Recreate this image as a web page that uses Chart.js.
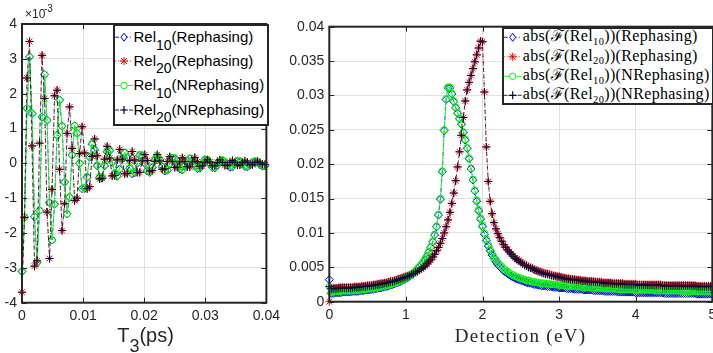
<!DOCTYPE html>
<html>
<head>
<meta charset="utf-8">
<script src="https://cdn.jsdelivr.net/npm/chart.js@4.4.1/dist/chart.umd.min.js"></script>
<style>
  html,body{margin:0;padding:0;background:#fff;}
  body{width:713px;height:353px;overflow:hidden;position:relative;}
  canvas{position:absolute;top:0;}
  .t{position:absolute;white-space:nowrap;color:#262626;}
  .lg{position:absolute;background:#fff;border:2px solid #262626;box-sizing:border-box;}
</style>
</head>
<body>
<canvas id="cL" width="285" height="353" style="left:0"></canvas>
<canvas id="cR" width="445" height="353" style="left:285px"></canvas>
<script>
// ---------------- DATA ----------------
// Left panel: time-domain signals, sampled every T3_STEP ps (x10^-3 units on y)
const T3_STEP = 0.00041;
const timeTicks = [0, 0.01, 0.02, 0.03, 0.04];
const signalTicks = [-4, -3, -2, -1, 0, 1, 2, 3, 4];

const rel10Reph = [-3.10,-1.55,1.58,3.06,1.43,-1.53,-2.85,-1.35,1.33,2.55,
 1.24,-1.13,-2.20,-1.17,0.81,1.82,1.07,-0.54,-1.45,-0.97,
 0.24,1.08,0.86,0.00,-0.73,-0.72,-0.40,0.18,0.55,0.38,
 -0.07,-0.40,-0.42,-0.07,0.33,0.36,0.03,-0.30,-0.37,-0.17,
 0.13,0.30,0.16,-0.14,-0.30,-0.27,0.00,0.23,0.22,0.00,
 -0.22,-0.26,-0.12,0.10,0.20,0.10,-0.10,-0.22,-0.20,-0.02,
 0.15,0.14,-0.02,-0.16,-0.19,-0.08,0.06,0.13,0.06,-0.07,
 -0.15,-0.14,-0.02,0.10,0.09,-0.02,-0.12,-0.13,-0.06,0.04,
 0.08,0.03,-0.06,-0.11,-0.10,-0.02,0.06,0.05,-0.02,-0.09,
 -0.10,-0.05,0.02,0.05,0.02,-0.04,-0.08,-0.07];
const rel20Reph = [-3.70,-1.55,2.45,3.50,0.50,-2.95,-2.80,0.58,3.10,1.86,
 -1.40,-2.73,-0.75,1.94,2.10,-0.17,-1.93,-1.16,0.86,1.62,
 0.43,-1.07,-1.00,0.28,1.05,0.30,-0.73,-0.67,0.20,0.70,
 0.22,-0.45,-0.43,0.12,0.49,0.15,-0.36,-0.35,0.10,0.40,
 0.12,-0.30,-0.29,0.08,0.34,0.10,-0.26,-0.26,0.07,0.25,
 0.08,-0.22,-0.21,0.06,0.25,0.07,-0.17,-0.16,0.05,0.19,
 0.06,-0.12,-0.11,0.04,0.16,0.05,-0.10,-0.10,0.04,0.17,
 0.05,-0.08,-0.07,0.03,0.10,0.04,-0.07,-0.07,0.03,0.10,
 0.03,-0.06,-0.05,0.02,0.08,0.03,-0.05,-0.05,0.02,0.07,
 0.03,-0.04,-0.04,0.02,0.06,0.02,-0.03,-0.03];
const rel10NReph = [-3.10,-1.55,1.58,3.06,1.43,-1.53,-2.85,-1.35,1.33,2.55,
 1.24,-1.13,-2.20,-1.17,0.81,1.82,1.07,-0.54,-1.45,-0.97,
 0.24,1.08,0.86,0.00,-0.73,-0.70,-0.38,0.20,0.57,0.40,
 -0.05,-0.38,-0.40,-0.05,0.35,0.38,0.05,-0.28,-0.35,-0.15,
 0.15,0.32,0.18,-0.12,-0.28,-0.25,0.02,0.25,0.24,0.02,
 -0.20,-0.24,-0.10,0.12,0.22,0.12,-0.08,-0.20,-0.18,0.00,
 0.17,0.16,0.00,-0.14,-0.17,-0.06,0.08,0.15,0.08,-0.05,
 -0.13,-0.12,0.00,0.12,0.11,0.00,-0.10,-0.11,-0.04,0.06,
 0.10,0.05,-0.04,-0.09,-0.08,0.00,0.08,0.07,0.00,-0.07,
 -0.08,-0.03,0.04,0.07,0.04,-0.02,-0.06,-0.05];
const rel20NReph = [-3.70,-1.55,2.45,3.50,0.50,-2.95,-2.80,0.58,3.10,1.86,
 -1.40,-2.73,-0.75,1.94,2.10,-0.17,-1.93,-1.16,0.86,1.62,
 0.43,-1.07,-1.00,0.28,1.05,0.30,-0.73,-0.67,0.20,0.70,
 0.22,-0.45,-0.43,0.12,0.49,0.15,-0.36,-0.35,0.10,0.40,
 0.12,-0.30,-0.29,0.08,0.34,0.10,-0.26,-0.26,0.07,0.25,
 0.08,-0.22,-0.21,0.06,0.25,0.07,-0.17,-0.16,0.05,0.19,
 0.06,-0.12,-0.11,0.04,0.16,0.05,-0.10,-0.10,0.04,0.17,
 0.05,-0.08,-0.07,0.03,0.10,0.04,-0.07,-0.07,0.03,0.10,
 0.03,-0.06,-0.05,0.02,0.08,0.03,-0.05,-0.05,0.02,0.07,
 0.03,-0.04,-0.04,0.02,0.06,0.02,-0.03,-0.03];

// Right panel: spectra vs detection energy, sampled every E_STEP eV
const E_STEP = 0.025;
const energyTicks = [0, 1, 2, 3, 4, 5];
const spectrumTicks = [0, 0.005, 0.01, 0.015, 0.02, 0.025, 0.03, 0.035, 0.04];

const specRel10Reph = [
 0.0032,0.0012,0.0012,0.0013,0.0013,0.0013,0.0013,0.0014,0.0014,0.0014,
 0.0014,0.0014,0.0015,0.0015,0.0015,0.0015,0.0016,0.0016,0.0016,0.0017,
 0.0017,0.0017,0.0018,0.0018,0.0019,0.0019,0.0020,0.0020,0.0021,0.0022,
 0.0022,0.0023,0.0024,0.0025,0.0026,0.0027,0.0028,0.0029,0.0031,0.0032,
 0.0034,0.0035,0.0037,0.0039,0.0041,0.0044,0.0047,0.0050,0.0053,0.0057,
 0.0061,0.0066,0.0072,0.0079,0.0087,0.0097,0.0109,0.0126,0.0149,0.0189,
 0.0249,0.0294,0.0311,0.0311,0.0302,0.0291,0.0282,0.0274,0.0266,0.0258,
 0.0246,0.0235,0.0223,0.0208,0.0193,0.0177,0.0161,0.0146,0.0132,0.0120,
 0.0109,0.0098,0.0089,0.0081,0.0074,0.0068,0.0063,0.0058,0.0054,0.0051,
 0.0048,0.0045,0.0043,0.0041,0.0039,0.0037,0.0036,0.0034,0.0033,0.0032,
 0.0031,0.0030,0.0029,0.0028,0.0027,0.0027,0.0026,0.0025,0.0025,0.0024,
 0.0024,0.0023,0.0023,0.0023,0.0022,0.0022,0.0022,0.0021,0.0021,0.0021,
 0.0020,0.0020,0.0020,0.0020,0.0019,0.0019,0.0019,0.0019,0.0018,0.0018,
 0.0018,0.0018,0.0018,0.0017,0.0017,0.0017,0.0017,0.0017,0.0016,0.0016,
 0.0016,0.0016,0.0016,0.0016,0.0015,0.0015,0.0015,0.0015,0.0015,0.0015,
 0.0015,0.0014,0.0014,0.0014,0.0014,0.0014,0.0014,0.0014,0.0014,0.0014,
 0.0013,0.0013,0.0013,0.0013,0.0013,0.0013,0.0013,0.0013,0.0013,0.0013,
 0.0013,0.0013,0.0013,0.0013,0.0013,0.0012,0.0012,0.0012,0.0012,0.0012,
 0.0012,0.0012,0.0012,0.0012,0.0012,0.0012,0.0012,0.0012,0.0012,0.0012,
 0.0012,0.0012,0.0011,0.0011,0.0011,0.0011,0.0011,0.0011,0.0011,0.0011,
 0.0011];
const specRel20Reph = [
 0.0000,0.0020,0.0020,0.0020,0.0020,0.0021,0.0021,0.0021,0.0021,0.0021,
 0.0021,0.0021,0.0021,0.0022,0.0022,0.0022,0.0022,0.0023,0.0023,0.0023,
 0.0024,0.0024,0.0024,0.0025,0.0025,0.0026,0.0026,0.0027,0.0027,0.0028,
 0.0028,0.0029,0.0030,0.0030,0.0031,0.0032,0.0033,0.0034,0.0035,0.0036,
 0.0037,0.0038,0.0039,0.0040,0.0041,0.0043,0.0044,0.0046,0.0048,0.0050,
 0.0052,0.0055,0.0058,0.0061,0.0065,0.0069,0.0074,0.0079,0.0085,0.0092,
 0.0100,0.0109,0.0119,0.0130,0.0143,0.0158,0.0176,0.0196,0.0218,0.0242,
 0.0268,0.0292,0.0308,0.0319,0.0329,0.0339,0.0349,0.0359,0.0369,0.0379,
 0.0378,0.0305,0.0225,0.0175,0.0146,0.0128,0.0115,0.0106,0.0099,0.0093,
 0.0088,0.0083,0.0080,0.0076,0.0073,0.0070,0.0067,0.0064,0.0062,0.0060,
 0.0058,0.0056,0.0054,0.0053,0.0051,0.0050,0.0049,0.0047,0.0046,0.0045,
 0.0044,0.0043,0.0042,0.0041,0.0041,0.0040,0.0039,0.0038,0.0038,0.0037,
 0.0037,0.0036,0.0035,0.0035,0.0034,0.0034,0.0033,0.0033,0.0033,0.0032,
 0.0032,0.0032,0.0031,0.0031,0.0031,0.0030,0.0030,0.0030,0.0030,0.0029,
 0.0029,0.0029,0.0029,0.0028,0.0028,0.0028,0.0028,0.0028,0.0027,0.0027,
 0.0027,0.0027,0.0027,0.0027,0.0026,0.0026,0.0026,0.0026,0.0026,0.0026,
 0.0026,0.0025,0.0025,0.0025,0.0025,0.0025,0.0025,0.0025,0.0025,0.0025,
 0.0025,0.0025,0.0025,0.0025,0.0024,0.0024,0.0024,0.0024,0.0024,0.0024,
 0.0024,0.0024,0.0024,0.0024,0.0024,0.0024,0.0024,0.0024,0.0024,0.0024,
 0.0024,0.0024,0.0023,0.0023,0.0023,0.0023,0.0023,0.0023,0.0023,0.0023,
 0.0023];
const specRel10NReph = [
 0.0022,0.0014,0.0014,0.0015,0.0015,0.0015,0.0015,0.0016,0.0016,0.0016,
 0.0016,0.0016,0.0016,0.0017,0.0017,0.0017,0.0017,0.0018,0.0018,0.0018,
 0.0019,0.0019,0.0019,0.0020,0.0020,0.0021,0.0021,0.0022,0.0022,0.0023,
 0.0024,0.0024,0.0025,0.0026,0.0027,0.0028,0.0029,0.0030,0.0032,0.0033,
 0.0035,0.0036,0.0038,0.0040,0.0042,0.0045,0.0048,0.0051,0.0054,0.0058,
 0.0062,0.0067,0.0073,0.0080,0.0088,0.0098,0.0110,0.0127,0.0150,0.0190,
 0.0250,0.0295,0.0312,0.0312,0.0303,0.0292,0.0283,0.0275,0.0267,0.0259,
 0.0247,0.0236,0.0224,0.0209,0.0194,0.0178,0.0162,0.0148,0.0134,0.0122,
 0.0111,0.0100,0.0091,0.0083,0.0076,0.0070,0.0065,0.0061,0.0057,0.0054,
 0.0051,0.0048,0.0046,0.0044,0.0042,0.0040,0.0039,0.0037,0.0036,0.0035,
 0.0034,0.0033,0.0032,0.0031,0.0031,0.0030,0.0029,0.0029,0.0028,0.0028,
 0.0027,0.0027,0.0027,0.0026,0.0026,0.0026,0.0025,0.0025,0.0025,0.0025,
 0.0024,0.0024,0.0024,0.0023,0.0023,0.0023,0.0023,0.0022,0.0022,0.0022,
 0.0022,0.0022,0.0021,0.0021,0.0021,0.0021,0.0021,0.0020,0.0020,0.0020,
 0.0020,0.0020,0.0020,0.0019,0.0019,0.0019,0.0019,0.0019,0.0019,0.0019,
 0.0018,0.0018,0.0018,0.0018,0.0018,0.0018,0.0018,0.0018,0.0018,0.0018,
 0.0017,0.0017,0.0017,0.0017,0.0017,0.0017,0.0017,0.0017,0.0017,0.0017,
 0.0016,0.0016,0.0016,0.0016,0.0016,0.0016,0.0016,0.0016,0.0016,0.0016,
 0.0016,0.0016,0.0016,0.0016,0.0015,0.0015,0.0015,0.0015,0.0015,0.0015,
 0.0015,0.0015,0.0015,0.0015,0.0015,0.0015,0.0015,0.0015,0.0015,0.0015,
 0.0015];
const specRel20NReph = [
 0.0022,0.0019,0.0019,0.0019,0.0019,0.0020,0.0020,0.0020,0.0020,0.0020,
 0.0020,0.0020,0.0020,0.0021,0.0021,0.0021,0.0021,0.0022,0.0022,0.0022,
 0.0023,0.0023,0.0023,0.0024,0.0024,0.0025,0.0025,0.0026,0.0026,0.0027,
 0.0027,0.0028,0.0029,0.0029,0.0030,0.0031,0.0032,0.0033,0.0034,0.0035,
 0.0036,0.0037,0.0038,0.0040,0.0041,0.0043,0.0044,0.0046,0.0048,0.0050,
 0.0052,0.0055,0.0058,0.0061,0.0065,0.0069,0.0074,0.0079,0.0085,0.0092,
 0.0100,0.0109,0.0119,0.0130,0.0143,0.0158,0.0176,0.0196,0.0218,0.0242,
 0.0268,0.0292,0.0308,0.0319,0.0329,0.0339,0.0349,0.0359,0.0369,0.0379,
 0.0378,0.0305,0.0225,0.0175,0.0146,0.0128,0.0115,0.0106,0.0099,0.0093,
 0.0088,0.0083,0.0079,0.0075,0.0072,0.0069,0.0066,0.0063,0.0061,0.0059,
 0.0057,0.0055,0.0053,0.0052,0.0050,0.0049,0.0048,0.0046,0.0045,0.0044,
 0.0043,0.0042,0.0041,0.0040,0.0040,0.0039,0.0038,0.0037,0.0037,0.0036,
 0.0036,0.0035,0.0034,0.0034,0.0033,0.0033,0.0032,0.0032,0.0032,0.0031,
 0.0031,0.0031,0.0030,0.0030,0.0030,0.0029,0.0029,0.0029,0.0029,0.0028,
 0.0028,0.0028,0.0028,0.0027,0.0027,0.0027,0.0027,0.0027,0.0026,0.0026,
 0.0026,0.0026,0.0026,0.0026,0.0025,0.0025,0.0025,0.0025,0.0025,0.0025,
 0.0025,0.0024,0.0024,0.0024,0.0024,0.0024,0.0024,0.0024,0.0024,0.0024,
 0.0024,0.0024,0.0024,0.0024,0.0023,0.0023,0.0023,0.0023,0.0023,0.0023,
 0.0023,0.0023,0.0023,0.0023,0.0023,0.0023,0.0023,0.0023,0.0023,0.0023,
 0.0023,0.0023,0.0022,0.0022,0.0022,0.0022,0.0022,0.0022,0.0022,0.0022,
 0.0022];

// Legend labels
const leftLabels = [
  ['Rel','10','(Rephasing)'],
  ['Rel','20','(Rephasing)'],
  ['Rel','10','(NRephasing)'],
  ['Rel','20','(NRephasing)']
];
const rightLabels = [
  ['abs(\u2131(Rel','10','))(Rephasing)'],
  ['abs(\u2131(Rel','20','))(Rephasing)'],
  ['abs(\u2131(Rel','10','))(NRephasing)'],
  ['abs(\u2131(Rel','20','))(NRephasing)']
];

// ---------------- STYLES ----------------
const STY = [
  {color:'#0000ff', dash:[4,2,1,2], point:'rectRot', r:4,   mk:'diamond'},
  {color:'#ff0000', dash:[1,2],     point:'star',    r:4,   mk:'star'},
  {color:'#00ff00', dash:[],        point:'circle',  r:3.3, mk:'circle'},
  {color:'#0b0b3a', dash:[4,3],     point:'cross',   r:4,   mk:'plus'}
];
const AX = '#262626';
const GRID = '#e0e0e0';
const tickFont = {family:'"Liberation Sans", Arial, Helvetica, sans-serif', size:14};
function fmt(v){ return String(parseFloat(Number(v).toFixed(6))); }

function ds(label, vals, step, st, order){
  return {
    label, order,
    data: vals.map((v,i)=>({x:i*step, y:v})),
    borderColor: st.color, borderWidth: 0.8, borderDash: st.dash,
    pointStyle: st.point, pointRadius: st.r, pointHoverRadius: st.r,
    pointBorderColor: st.color, pointBackgroundColor: 'rgba(0,0,0,0)',
    pointBorderWidth: 1, tension: 0, fill: false, clip: false
  };
}

const boxPlugin = {
  id: 'boxPlugin',
  afterDraw(chart){
    const {ctx, chartArea: a, scales} = chart;
    const x = scales.x, y = scales.y;
    ctx.save();
    ctx.strokeStyle = AX;
    ctx.lineWidth = 1;
    ctx.beginPath();
    x.ticks.forEach(t => {
      const p = Math.round(x.getPixelForValue(t.value)) + 0.5;
      ctx.moveTo(p, a.bottom); ctx.lineTo(p, a.bottom - 5);
      ctx.moveTo(p, a.top); ctx.lineTo(p, a.top + 5);
    });
    y.ticks.forEach(t => {
      const p = Math.round(y.getPixelForValue(t.value)) + 0.5;
      ctx.moveTo(a.left, p); ctx.lineTo(a.left + 5, p);
      ctx.moveTo(a.right, p); ctx.lineTo(a.right - 5, p);
    });
    ctx.stroke();
    ctx.lineWidth = 2;
    ctx.strokeRect(a.left, a.top, a.right - a.left, a.bottom - a.top);
    ctx.restore();
  }
};

function axis(min, max, ticksArr, fitFn){
  return {
    type: 'linear', min, max,
    afterBuildTicks: s => { s.ticks = ticksArr.map(v => ({value: v})); },
    ticks: {color: AX, font: tickFont, padding: 5, autoSkip: false, maxRotation: 0, callback: v => fmt(v)},
    grid: {color: GRID, lineWidth: 1, drawTicks: false},
    border: {display: false},
    afterFit: fitFn
  };
}

function makeChart(id, datasets, xs, ys, padding){
  return new Chart(document.getElementById(id), {
    type: 'line',
    data: {datasets},
    options: {
      responsive: false, animation: false, devicePixelRatio: 1,
      layout: {padding},
      plugins: {legend: {display: false}, tooltip: {enabled: false}},
      scales: {x: xs, y: ys}
    },
    plugins: [boxPlugin]
  });
}

// Left chart: plot area x 22..269, y 24..302.7
makeChart('cL', [
  ds('Rel10(Rephasing)',  rel10Reph,  T3_STEP, STY[0], 3),
  ds('Rel20(Rephasing)',  rel20Reph,  T3_STEP, STY[1], 2),
  ds('Rel10(NRephasing)', rel10NReph, T3_STEP, STY[2], 1),
  ds('Rel20(NRephasing)', rel20NReph, T3_STEP, STY[3], 0)
],
  axis(0, 0.04, timeTicks, s => { s.height = 50.3; }),
  axis(-4, 4, signalTicks, s => { s.width = 22; }),
  {left: 0, right: 16, top: 24, bottom: 0});

// Right chart: plot area x 329.3..712.3, y 26.7..301.7 (canvas starts at 285)
makeChart('cR', [
  ds('Rel10(Rephasing)',  specRel10Reph,  E_STEP, STY[0], 3),
  ds('Rel20(Rephasing)',  specRel20Reph,  E_STEP, STY[1], 2),
  ds('Rel10(NRephasing)', specRel10NReph, E_STEP, STY[2], 1),
  ds('Rel20(NRephasing)', specRel20NReph, E_STEP, STY[3], 0)
],
  axis(0, 5, energyTicks, s => { s.height = 51.3; }),
  axis(0, 0.04, spectrumTicks, s => { s.width = 44.3; }),
  {left: 0, right: 17.7, top: 26.7, bottom: 0});

// ---------------- TEXT / LEGENDS (DOM) ----------------
function el(html, style){
  const d = document.createElement('div');
  d.className = 't';
  d.innerHTML = html;
  Object.assign(d.style, style);
  document.body.appendChild(d);
  return d;
}
function markerSVG(st, cx, cy){
  const c = st.color;
  const dash = st.dash.length ? `stroke-dasharray="${st.dash.join(',')}"` : '';
  let s = `<line x1="${cx-9}" y1="${cy}" x2="${cx+9}" y2="${cy}" stroke="${c}" stroke-width="0.9" ${dash}/>`;
  if (st.mk === 'diamond') s += `<path d="M${cx},${cy-4} L${cx+3},${cy} L${cx},${cy+4} L${cx-3},${cy} Z" fill="#fff" stroke="${c}" stroke-width="1"/>`;
  if (st.mk === 'star') s += `<path d="M${cx-4},${cy} H${cx+4} M${cx},${cy-4} V${cy+4} M${cx-3},${cy-3} L${cx+3},${cy+3} M${cx-3},${cy+3} L${cx+3},${cy-3}" stroke="${c}" stroke-width="1"/>`;
  if (st.mk === 'circle') s += `<circle cx="${cx}" cy="${cy}" r="3.2" fill="#fff" stroke="${c}" stroke-width="1"/>`;
  if (st.mk === 'plus') s += `<path d="M${cx-4},${cy} H${cx+4} M${cx},${cy-4} V${cy+4}" stroke="${c}" stroke-width="1.2"/>`;
  return s;
}
function legend(box, labels, baselines, markerX, textX, font, fs, subFs, subShift, asc, extra){
  const d = document.createElement('div');
  d.className = 'lg';
  Object.assign(d.style, {left: box[0]+'px', top: box[1]+'px', width: box[2]+'px', height: box[3]+'px'});
  document.body.appendChild(d);
  let svg = `<svg width="${box[2]}" height="${box[3]}" style="position:absolute;left:${box[0]}px;top:${box[1]}px" xmlns="http://www.w3.org/2000/svg">`;
  labels.forEach((lab, i) => {
    const by = baselines[i] - box[1];
    svg += markerSVG(STY[i], markerX - box[0], by - 4.5);
    el(`${lab[0]}<span style="font-size:${subFs}px;position:relative;top:${subShift}px">${lab[1]}</span>${lab[2]}`,
      Object.assign({left: textX+'px', top: (baselines[i] - asc*fs)+'px', fontFamily: font, fontSize: fs+'px', lineHeight: fs+'px', color: '#000'}, extra||{}));
  });
  svg += '</svg>';
  const w = document.createElement('div');
  w.innerHTML = svg;
  document.body.appendChild(w.firstChild);
}

const SANS = '"Liberation Sans", Arial, Helvetica, sans-serif';
const SERIF = '"Liberation Serif", "Times New Roman", "DejaVu Serif", serif';

legend([113, 24, 156, 102], leftLabels, [41.7, 65.5, 90, 114.5], 124, 133.5, SANS, 15, 14, 7.5, 0.8465);
legend([502, 26.7, 212, 78.3], rightLabels, [41.5, 61, 80.5, 99.5], 512.7, 522.7, SERIF, 16, 10.5, 3.5, 0.8375, {letterSpacing: '0.35px'});

// exponent label
el('\u00d710', {left: '25px', top: (18.3 - 0.8465*12)+'px', fontFamily: SANS, fontSize: '12px', lineHeight: '12px'});
el('-3', {left: '44px', top: (12.3 - 0.8465*10)+'px', fontFamily: SANS, fontSize: '10px', lineHeight: '10px'});

// axis titles
el('T<span style="font-size:18px;position:relative;top:10px">3</span>(ps)',
   {left: '45.5px', width: '200px', textAlign: 'center', top: (341.7 - 0.8465*20)+'px', fontFamily: SANS, fontSize: '20px', lineHeight: '20px'});
el('Detection (eV)',
   {left: '420.5px', width: '200px', textAlign: 'center', top: (341.7 - 0.8375*19)+'px', fontFamily: SERIF, fontSize: '19px', lineHeight: '19px', letterSpacing: '1.3px'});
</script>
</body>
</html>
